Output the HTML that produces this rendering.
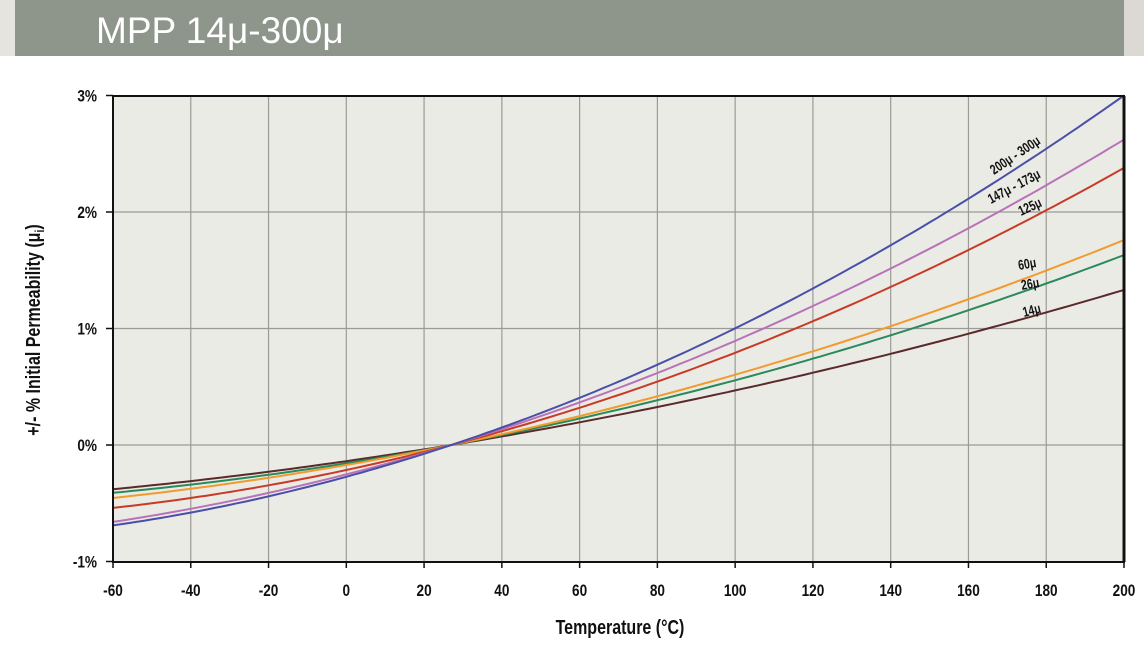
<!DOCTYPE html>
<html><head><meta charset="utf-8"><style>
body{margin:0;width:1144px;height:646px;background:#fff;overflow:hidden}
svg text{font-family:"Liberation Sans Narrow","Liberation Sans",sans-serif;font-weight:bold;fill:#111}
</style></head><body>
<svg width="1144" height="646" xmlns="http://www.w3.org/2000/svg">
<rect x="0" y="0" width="15" height="56" fill="#e6e4df"/>
<rect x="15" y="0" width="1109" height="56" fill="#8e958b"/>
<rect x="1124" y="0" width="20" height="56" fill="#dcd8d3"/>
<text x="96" y="43" style="font-family:'Liberation Sans',sans-serif;font-weight:normal;font-size:37px;fill:#fff">MPP 14μ-300μ</text>
<rect x="113" y="96" width="1011" height="466" fill="#ebebe6"/>
<g id="grid" stroke="#9a9a96" stroke-width="1.2"></g>
<g id="curves" fill="none" stroke-width="2"></g>
<rect x="113" y="96" width="1011" height="466" fill="none" stroke="#111" stroke-width="2"/>
<line x1="1124" y1="96" x2="1124" y2="562" stroke="#111" stroke-width="3"/>
<g id="ticks" font-size="17"></g>
<text x="620" y="634" text-anchor="middle" font-size="20" transform="translate(620,0) scale(0.8,1) translate(-620,0)">Temperature (°C)</text>
<text transform="translate(40,330) rotate(-90) scale(0.8,1)" text-anchor="middle" font-size="20">+/- % Initial Permeability (μ<tspan font-size="13" dy="4">i</tspan><tspan dy="-4">)</tspan></text>
<g font-size="14">
<text transform="translate(994,175) rotate(-34) scale(0.75,1)">200μ - 300μ</text>
<text transform="translate(991,204) rotate(-28) scale(0.75,1)">147μ - 173μ</text>
<text transform="translate(1021,216) rotate(-25) scale(0.75,1)">125μ</text>
<text transform="translate(1019,270) rotate(-10) scale(0.75,1)">60μ</text>
<text transform="translate(1022,290) rotate(-10) scale(0.75,1)">26μ</text>
<text transform="translate(1024,317) rotate(-14) scale(0.75,1)">14μ</text>
</g>
</svg>
<script>
const X=t=>113+(t+60)/260*1011, Y=p=>445-p*116.5;
const ns="http://www.w3.org/2000/svg";
const g=document.getElementById('grid'),tk=document.getElementById('ticks'),cv=document.getElementById('curves');
function el(p,tag,a,txt){const e=document.createElementNS(ns,tag);for(const k in a)e.setAttribute(k,a[k]);if(txt)e.textContent=txt;p.appendChild(e);}
for(let t=-60;t<=200;t+=20){const x=X(t);if(t>-60&&t<200)el(g,'line',{x1:x,y1:96,x2:x,y2:562});
el(tk,'line',{x1:x,y1:562,x2:x,y2:568,stroke:'#111','stroke-width':1.5});
el(tk,'text',{x:x,y:596,'text-anchor':'middle',transform:`translate(${x},0) scale(0.8,1) translate(${-x},0)`},String(t));}
for(let p=-1;p<=3;p++){const y=Y(p);if(p>-1&&p<3)el(g,'line',{x1:113,y1:y,x2:1124,y2:y});
el(tk,'line',{x1:106,y1:y,x2:113,y2:y,stroke:'#111','stroke-width':1.5});
el(tk,'text',{x:97,y:y+6,'text-anchor':'end',transform:`translate(97,0) scale(0.8,1) translate(-97,0)`},p+'%');}
const S=[["#5a2a2a",0.00548,1.28e-5],["#2a8a5a",0.00629,1.81e-5],["#f29a2e",0.00688,1.90e-5],["#c83a26",0.00873,2.90e-5],["#b873b8",0.01012,2.91e-5],["#4a4fa8",0.01108,3.62e-5]];
for(const [c,a,b] of S){let d='';for(let t=-60;t<=200;t+=2){const u=t-27;d+=(t==-60?'M':'L')+X(t).toFixed(1)+','+Y(a*u+b*u*u).toFixed(1);}
el(cv,'path',{d:d,stroke:c});}
</script>
</body></html>
